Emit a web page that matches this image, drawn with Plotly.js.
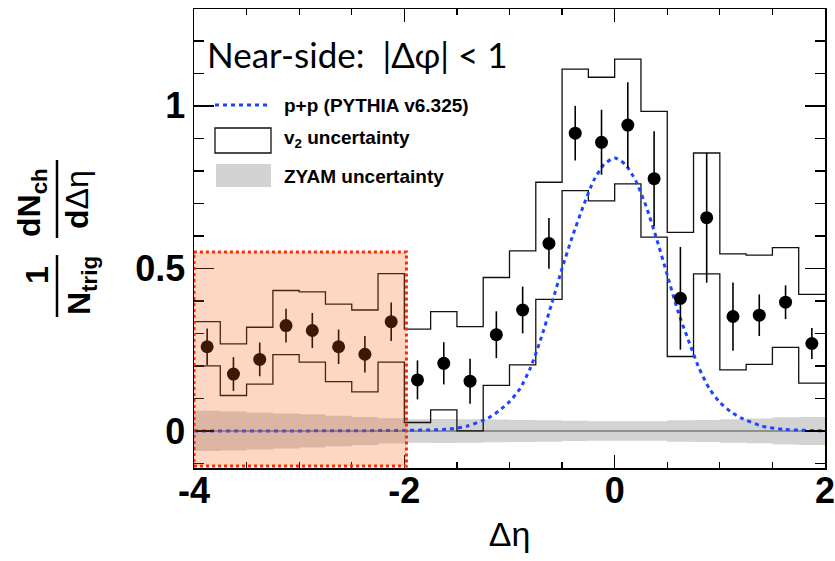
<!DOCTYPE html>
<html>
<head>
<meta charset="utf-8">
<script src="https://cdn.plot.ly/plotly-3.0.1.min.js"></script>
<style>html,body{margin:0;padding:0;background:#fff;}#chart{width:835px;height:561px;}</style>
</head>
<body>
<div id="chart"></div>
<script>
// ---- data ----
const etaCenters = [-3.875,-3.625,-3.375,-3.125,-2.875,-2.625,-2.375,-2.125,
  -1.875,-1.625,-1.375,-1.125,-0.875,-0.625,-0.375,-0.125,0.125,0.375,0.625,0.875,1.125,1.375,1.625,1.875];
const yieldVals = [0.259,0.175,0.220,0.324,0.309,0.259,0.236,0.336,
  0.157,0.208,0.153,0.296,0.372,0.577,0.916,0.888,0.941,0.776,0.408,0.656,0.352,0.356,0.396,0.269];
const statErr = [0.056,0.052,0.052,0.052,0.054,0.053,0.056,0.059,
  0.060,0.065,0.069,0.072,0.072,0.078,0.084,0.100,0.132,0.146,0.158,0.200,0.105,0.064,0.052,0.048];
const v2Upper = [0.336,0.268,0.319,0.432,0.428,0.390,0.372,0.484,
  0.313,0.367,0.321,0.472,0.554,0.765,1.113,1.088,1.144,0.983,0.611,0.855,0.545,0.541,0.564,0.420];
const v2Lower = [0.200,0.109,0.144,0.235,0.212,0.152,0.120,0.212,
  0.026,0.065,0.000,0.140,0.203,0.405,0.739,0.708,0.760,0.596,0.229,0.483,0.188,0.205,0.257,0.147];
const zyamHalf = [0.062,0.060,0.057,0.054,0.051,0.047,0.043,0.039,
  0.036,0.037,0.036,0.035,0.034,0.033,0.031,0.030,0.030,0.030,0.033,0.034,0.036,0.038,0.042,0.043];
const binWidth = 0.25;
const pythiaEta = [-4,-1.6,-1.4,-1.2,-1.1,-1.0,-0.9,-0.8,-0.7,-0.6,-0.5,-0.4,-0.3,-0.2,-0.1,0,
  0.1,0.2,0.3,0.4,0.5,0.6,0.7,0.8,0.9,1.0,1.1,1.2,1.4,1.6,2];
const pythiaVal = [0,0.005,0.015,0.04,0.062,0.09,0.13,0.195,0.285,0.39,0.5,0.6,0.69,0.77,0.82,0.84,
  0.82,0.77,0.69,0.59,0.48,0.37,0.28,0.195,0.13,0.088,0.06,0.04,0.015,0.005,0];
const xTickVals = [-4,-2,0,2];
const xTickText = ['-4','-2','0','2'];
const yTickVals = [0,0.5,1];
const yTickText = ['0','0.5','1'];
const sideBand = [-4,-2]; // highlighted region in eta

// ---- helpers ----
const edges = etaCenters.map(c => c - binWidth/2).concat([etaCenters[etaCenters.length-1] + binWidth/2]);
const stepY = arr => arr.concat([arr[arr.length-1]]);
const zyUp = zyamHalf.map(h => h);
const zyLo = zyamHalf.map(h => -h);

const L = 194, T = 9, W = 631, H = 459;
const px = p => (p - L) / W;
const py = p => 1 - (p - T) / H;

const traces = [
  {x: edges, y: stepY(zyLo), mode:'lines', line:{shape:'hv', width:0, color:'rgba(0,0,0,0)'}, hoverinfo:'skip', showlegend:false},
  {x: edges, y: stepY(zyUp), mode:'lines', line:{shape:'hv', width:0, color:'rgba(0,0,0,0)'}, fill:'tonexty', fillcolor:'#d3d3d3', hoverinfo:'skip', showlegend:false},
  {x: [edges[0], edges[edges.length-1]], y:[0,0], mode:'lines', line:{color:'#7a7a7a', width:1.5}, showlegend:false, hoverinfo:'skip'},
  {x: edges, y: stepY(v2Upper), mode:'lines', line:{shape:'hv', color:'#111', width:1.3}, showlegend:false},
  {x: edges, y: stepY(v2Lower), mode:'lines', line:{shape:'hv', color:'#111', width:1.3}, showlegend:false},
  {x: pythiaEta, y: pythiaVal, mode:'lines', line:{color:'#1f44ff', width:3, dash:'4px,4px', shape:'spline', smoothing:0.6}, showlegend:false},
  {x: etaCenters, y: yieldVals, mode:'markers', marker:{color:'#000', size:13},
   error_y:{type:'data', array: statErr, color:'#000', thickness:1.6, width:0}, showlegend:false}
];

const shapes = [
  {type:'rect', xref:'x', yref:'paper', x0: sideBand[0], x1: sideBand[1]+0.02, y0: py(466), y1: py(252),
   fillcolor:'rgba(250,90,20,0.25)', line:{color:'#ff2a00', width:3, dash:'dot'}, layer:'above'},
  {type:'line', xref:'paper', yref:'paper', x0:px(215), x1:px(270), y0:py(105), y1:py(105), line:{color:'#1f44ff', width:3, dash:'4px,4px'}},
  {type:'rect', xref:'paper', yref:'paper', x0:px(215), x1:px(271), y0:py(153), y1:py(128), line:{color:'#111', width:1.3}, fillcolor:'rgba(0,0,0,0)'},
  {type:'rect', xref:'paper', yref:'paper', x0:px(216), x1:px(271), y0:py(187), y1:py(164), line:{width:0}, fillcolor:'#d3d3d3'},
  {type:'line', xref:'paper', yref:'paper', x0:px(57), x1:px(57), y0:py(160), y1:py(238), line:{color:'#000', width:2.5}},
  {type:'line', xref:'paper', yref:'paper', x0:px(57), x1:px(57), y0:py(255), y1:py(317), line:{color:'#000', width:2.5}}
];

const legFont = {family:'Liberation Sans, Arial, sans-serif', size:19, color:'#000', weight:'bold'};
const yTitleFont = {family:'Liberation Sans, Arial, sans-serif', size:32, color:'#000', weight:'bold'};
const annotations = [
  {xref:'paper', yref:'paper', x:px(205), y:py(54), xanchor:'left', yanchor:'middle', showarrow:false,
   text:'Near-side:  |Δφ| < 1', font:{family:'Lato, Open Sans, sans-serif', size:35, color:'#000'}},
  {xref:'paper', yref:'paper', x:px(282), y:py(105), xanchor:'left', yanchor:'middle', showarrow:false, text:'p+p (PYTHIA v6.325)', font:legFont},
  {xref:'paper', yref:'paper', x:px(282), y:py(139), xanchor:'left', yanchor:'middle', showarrow:false, text:'v<sub>2</sub> uncertainty', font:legFont},
  {xref:'paper', yref:'paper', x:px(282), y:py(176), xanchor:'left', yanchor:'middle', showarrow:false, text:'ZYAM uncertainty', font:legFont},
  {xref:'paper', yref:'paper', x:px(31), y:py(203), xanchor:'center', yanchor:'middle', textangle:-90, showarrow:false, text:'dN<sub>ch</sub>', font:yTitleFont},
  {xref:'paper', yref:'paper', x:px(77), y:py(200), xanchor:'center', yanchor:'middle', textangle:-90, showarrow:false, text:'<b>d</b>Δη', font:{family:'Liberation Sans, Arial, sans-serif', size:32, color:'#000'}},
  {xref:'paper', yref:'paper', x:px(37), y:py(275), xanchor:'center', yanchor:'middle', textangle:-90, showarrow:false, text:'1', font:yTitleFont},
  {xref:'paper', yref:'paper', x:px(81), y:py(286), xanchor:'center', yanchor:'middle', textangle:-90, showarrow:false, text:'N<sub>trig</sub>', font:yTitleFont}
];

const layout = {
  width:835, height:561,
  margin:{l:L, r:835-L-W, t:T, b:561-T-H, pad:0},
  paper_bgcolor:'#fff', plot_bgcolor:'#fff',
  showlegend:false,
  xaxis:{range:[-4,2], tickvals:xTickVals, ticktext:xTickText, ticks:'inside', ticklen:13, tickwidth:1.3, tickcolor:'#000',
    minor:{dtick:0.5, tick0:0, ticks:'inside', ticklen:6, tickwidth:1.3, tickcolor:'#000'},
    showline:true, linecolor:'#000', linewidth:1.5, mirror:'ticks', showgrid:false, zeroline:false,
    ticklabeloverflow:'allow', ticklabelstandoff:-10,
    tickfont:{family:'Liberation Sans, Arial, sans-serif', size:36, color:'#000', weight:'bold'},
    title:{text:'Δη', font:{family:'Liberation Sans, Arial, sans-serif', size:34, color:'#000'}, standoff:12}},
  yaxis:{range:[-0.114,1.298], tickvals:yTickVals, ticktext:yTickText, ticks:'inside', ticklen:20, tickwidth:1.3, tickcolor:'#000',
    minor:{dtick:0.1, tick0:0, ticks:'inside', ticklen:10, tickwidth:1.3, tickcolor:'#000'},
    showline:true, linecolor:'#000', linewidth:1.5, mirror:'ticks', showgrid:false, zeroline:false,
    ticklabeloverflow:'allow',
    tickfont:{family:'Liberation Sans, Arial, sans-serif', size:36, color:'#000', weight:'bold'}},
  shapes: shapes,
  annotations: annotations
};

Plotly.newPlot('chart', traces, layout, {displayModeBar:false, staticPlot:true});
</script>
</body>
</html>
